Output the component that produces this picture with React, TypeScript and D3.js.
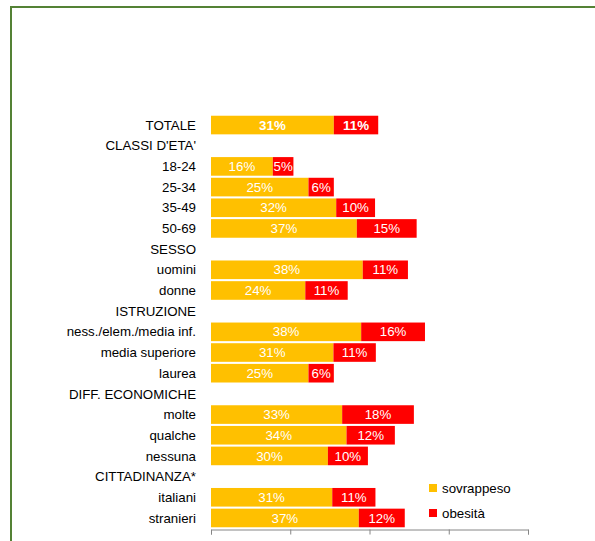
import { useEffect, useRef } from 'react';
import * as d3 from 'd3';

const categories = [
  'TOTALE', "CLASSI D'ETA'", '18-24', '25-34', '35-49', '50-69',
  'SESSO', 'uomini', 'donne',
  'ISTRUZIONE', 'ness./elem./media inf.', 'media superiore', 'laurea',
  'DIFF. ECONOMICHE', 'molte', 'qualche', 'nessuna',
  'CITTADINANZA*', 'italiani', 'stranieri',
];
// null = group heading row, no bar
const sovrappeso = [31, null, 15.6, 24.6, 31.6, 36.8, null, 38.3, 23.8, null, 37.9, 30.9, 24.6, null, 33.1, 34.2, 29.5, null, 30.6, 37.3];
const obesita = [11.2, null, 5.2, 6.4, 9.8, 15.1, null, 11.4, 10.7, null, 16.1, 10.7, 6.4, null, 18.1, 12.2, 10.1, null, 10.9, 11.6];
const xTicks = [0, 20, 40, 60, 80];

const FONT = 'Liberation Sans, Arial, sans-serif';
const FS = 13.3;

const App = () => {
  const svgRef = useRef<SVGSVGElement>(null);

  useEffect(() => {
    if (!svgRef.current) return;
    const svg = d3.select(svgRef.current);
    svg.selectAll('*').remove();

    // frame
    svg.append('rect')
      .attr('x', 11).attr('y', 7)
      .attr('width', 600).attr('height', 560)
      .attr('fill', 'white')
      .attr('stroke', '#548235')
      .attr('stroke-width', 2);

    const x = d3.scaleLinear().domain([0, 80]).range([211, 528]);
    const y = d3.scaleBand().domain(categories).range([114.7, 528.3]).paddingInner(0.1).paddingOuter(0.05);

    // axis
    const axis = svg.append('g')
      .attr('transform', 'translate(0,529.5)')
      .call(d3.axisBottom(x).tickValues(xTicks).tickSize(5).tickFormat(() => ''));
    axis.select('.domain').attr('stroke', '#868686');
    axis.selectAll('.tick line').attr('stroke', '#868686');

    // category labels
    svg.append('g').selectAll('text')
      .data(categories)
      .enter()
      .append('text')
      .attr('x', 196)
      .attr('y', d => (y(d) || 0) + y.bandwidth() / 2)
      .attr('dy', '0.35em')
      .attr('text-anchor', 'end')
      .attr('font-family', FONT)
      .attr('font-size', FS)
      .attr('fill', '#000')
      .text(d => d);

    const rows = categories.map((c, i) => ({ c, s: sovrappeso[i], o: obesita[i], bold: i === 0 }))
      .filter(r => r.s !== null);

    const bars = svg.append('g');
    rows.forEach(r => {
      const yy = y(r.c) || 0;
      const h = y.bandwidth();
      const s = r.s as number;
      const o = r.o as number;
      bars.append('rect')
        .attr('x', x(0)).attr('y', yy)
        .attr('width', x(s) - x(0)).attr('height', h)
        .attr('fill', '#FFC000');
      bars.append('rect')
        .attr('x', x(s)).attr('y', yy)
        .attr('width', x(s + o) - x(s)).attr('height', h)
        .attr('fill', '#FF0000');
      bars.append('text')
        .attr('x', (x(0) + x(s)) / 2).attr('y', yy + h / 2)
        .attr('dy', '0.35em').attr('text-anchor', 'middle')
        .attr('font-family', FONT).attr('font-size', FS)
        .attr('font-weight', r.bold ? 'bold' : 'normal')
        .attr('fill', 'white')
        .text(`${Math.round(s)}%`);
      bars.append('text')
        .attr('x', (x(s) + x(s + o)) / 2).attr('y', yy + h / 2)
        .attr('dy', '0.35em').attr('text-anchor', 'middle')
        .attr('font-family', FONT).attr('font-size', FS)
        .attr('font-weight', r.bold ? 'bold' : 'normal')
        .attr('fill', 'white')
        .text(`${Math.round(o)}%`);
    });

    // legend
    const legend = [
      { label: 'sovrappeso', color: '#FFC000', y: 488 },
      { label: 'obesità', color: '#FF0000', y: 513 },
    ];
    const lg = svg.append('g');
    legend.forEach(l => {
      lg.append('rect')
        .attr('x', 429).attr('y', l.y - 4)
        .attr('width', 8).attr('height', 8)
        .attr('fill', l.color);
      lg.append('text')
        .attr('x', 442).attr('y', l.y)
        .attr('dy', '0.35em')
        .attr('font-family', FONT).attr('font-size', FS)
        .attr('fill', '#000')
        .text(l.label);
    });
  }, []);

  return (
    <svg
      ref={svgRef}
      width={595}
      height={541}
      style={{ position: 'absolute', left: 0, top: 0, display: 'block' }}
    />
  );
};

export default App;
